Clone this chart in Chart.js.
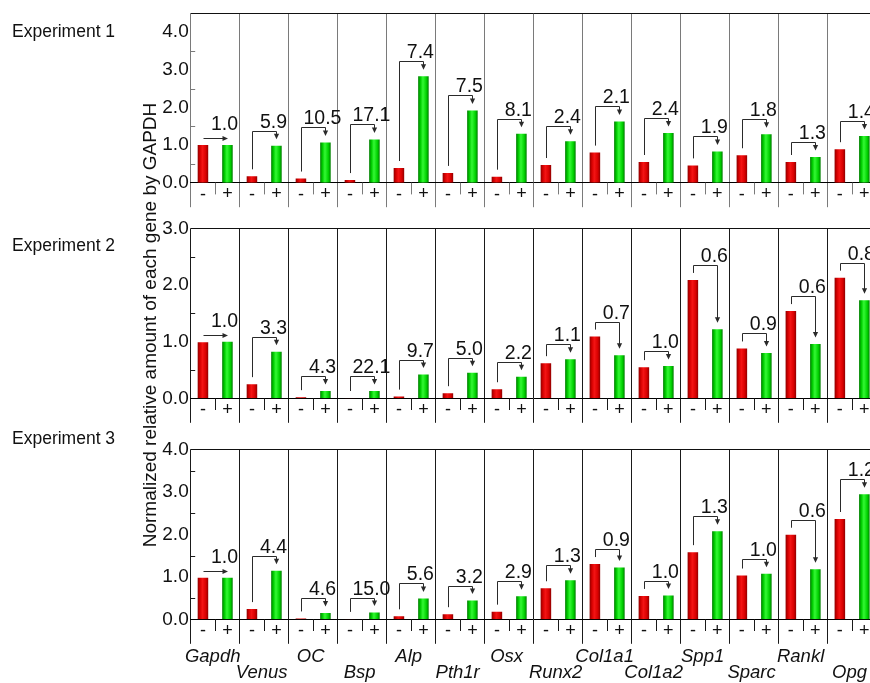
<!DOCTYPE html>
<html>
<head>
<meta charset="utf-8">
<script src="https://cdn.jsdelivr.net/npm/chart.js@4.4.1/dist/chart.umd.min.js"></script>
<style>
html,body{margin:0;padding:0;background:#fff;overflow:hidden;width:870px;height:683px;}
#wrap{position:relative;width:870px;height:683px;overflow:hidden;background:#fff;}
canvas{position:absolute;left:0;}
.exp{position:absolute;left:12px;font-family:"Liberation Sans",Arial,sans-serif;font-size:17.5px;color:#111;white-space:nowrap;line-height:20px;}
#ytitle{position:absolute;width:520px;height:22px;line-height:22px;text-align:center;font-family:"Liberation Sans",Arial,sans-serif;font-size:19px;color:#111;white-space:nowrap;transform:rotate(-90deg);transform-origin:50% 50%;}
</style>
</head>
<body>
<div id="wrap">
  <canvas id="c1" width="900" height="215" style="top:0px"></canvas>
  <canvas id="c2" width="900" height="220" style="top:215px"></canvas>
  <canvas id="c3" width="900" height="248" style="top:435px"></canvas>
  <div class="exp" id="e1">Experiment 1</div>
  <div class="exp" id="e2">Experiment 2</div>
  <div class="exp" id="e3">Experiment 3</div>
  <div id="ytitle">Normalized relative amount of each gene by GAPDH</div>
</div>
<script>
// ---------- data ----------
const genes = ['Gapdh','Venus','OC','Bsp','Alp','Pth1r','Osx','Runx2','Col1a1','Col1a2','Spp1','Sparc','Rankl','Opg'];
const signs = ['-','+'];
const expTitles = ['Experiment 1','Experiment 2','Experiment 3'];
const yTitle = 'Normalized relative amount of each gene by GAPDH';

const exp1Minus = [1.00,0.17,0.11,0.07,0.39,0.26,0.16,0.47,0.80,0.55,0.46,0.73,0.55,0.89];
const exp1Plus  = [1.00,0.98,1.07,1.15,2.83,1.92,1.30,1.10,1.63,1.32,0.83,1.29,0.68,1.24];
const exp1Fold  = ['1.0','5.9','10.5','17.1','7.4','7.5','8.1','2.4','2.1','2.4','1.9','1.8','1.3','1.4'];

const exp2Minus = [0.99,0.25,0.02,0.005,0.03,0.09,0.16,0.62,1.09,0.55,2.09,0.88,1.54,2.13];
const exp2Plus  = [1.00,0.82,0.13,0.13,0.42,0.45,0.38,0.69,0.76,0.57,1.22,0.80,0.96,1.73];
const exp2Fold  = ['1.0','3.3','4.3','22.1','9.7','5.0','2.2','1.1','0.7','1.0','0.6','0.9','0.6','0.8'];

const exp3Minus = [0.98,0.24,0.02,0.01,0.07,0.12,0.18,0.73,1.30,0.55,1.58,1.03,1.99,2.36];
const exp3Plus  = [0.98,1.14,0.15,0.16,0.49,0.44,0.54,0.92,1.22,0.56,2.07,1.07,1.18,2.94];
const exp3Fold  = ['1.0','4.4','4.6','15.0','5.6','3.2','2.9','1.3','0.9','1.0','1.3','1.0','0.6','1.2'];

const yMaxes = [4.5, 3.0, 4.0];
const yTicks1 = [0, 1, 2, 3, 4];
const yTicks2 = [0, 1, 2, 3];
const yTicks3 = [0, 1, 2, 3, 4];
const yStep = 1;
const refGene = 'Gapdh';

// ---------- layout / style ----------
const FONT = '"Liberation Sans", Arial, sans-serif';
const panels = [
  {id:'c1', h:215, padTop:12.3, zeroLocal:182.7, grid:'#7a7a7a', minus:exp1Minus, plus:exp1Plus, fold:exp1Fold, ymax:yMaxes[0], ticks:yTicks1, names:false},
  {id:'c2', h:220, padTop:13.3, zeroLocal:183.3, grid:'#1a1a1a', minus:exp2Minus, plus:exp2Plus, fold:exp2Fold, ymax:yMaxes[1], ticks:yTicks2, names:false},
  {id:'c3', h:248, padTop:14.3, zeroLocal:184.3, grid:'#1a1a1a', minus:exp3Minus, plus:exp3Plus, fold:exp3Fold, ymax:yMaxes[2], ticks:yTicks3, names:true}
];
const X_AXIS_H = 24;
const LEFT = 190.7;
const PAD_RIGHT = 23.4;
const BAR_PCT = 0.43;

document.getElementById('e1').textContent = expTitles[0];
document.getElementById('e2').textContent = expTitles[1];
document.getElementById('e3').textContent = expTitles[2];
document.getElementById('e1').style.top = (31-10)+'px';
document.getElementById('e2').style.top = (245-10)+'px';
document.getElementById('e3').style.top = (438-10)+'px';
const yt = document.getElementById('ytitle');
yt.textContent = yTitle;
yt.style.left = (150-260)+'px';
yt.style.top = (325-11)+'px';

function barFill(ctx, side){
  const stops = side
    ? ['#007c00','#00cc00','#34f834','#00d200','#007c00']
    : ['#8e0000','#d60000','#f41414','#d80000','#8e0000'];
  const chart = ctx.chart, sx = chart.scales && chart.scales.x;
  if (!sx || ctx.type !== 'data') return stops[2];
  const slot = (sx.getPixelForValue(1) - sx.getPixelForValue(0)) / 2;
  const cx = sx.getPixelForValue(ctx.dataIndex) + (side ? 0.5 : -0.5) * slot;
  const hw = slot * BAR_PCT / 2;
  if (!isFinite(cx) || !isFinite(hw) || hw <= 0) return stops[2];
  const g = chart.ctx.createLinearGradient(cx - hw, 0, cx + hw, 0);
  g.addColorStop(0, stops[0]);
  g.addColorStop(0.22, stops[1]);
  g.addColorStop(0.45, stops[2]);
  g.addColorStop(0.78, stops[3]);
  g.addColorStop(1, stops[4]);
  return g;
}

const annotPlugin = {
  id: 'annot',
  afterDatasetsDraw(chart, args, opts){
    const ctx = chart.ctx, ca = chart.chartArea;
    const sx = chart.scales.x, sy = chart.scales.y;
    const zero = sy.getPixelForValue(0);
    const m0 = chart.getDatasetMeta(0), m1 = chart.getDatasetMeta(1);
    ctx.save();
    // top frame line
    ctx.strokeStyle = '#111'; ctx.lineWidth = 1;
    ctx.beginPath();
    const ty = Math.round(ca.top) + 0.5;
    ctx.moveTo(ca.left, ty); ctx.lineTo(ca.right, ty); ctx.stroke();
    // minor y ticks (inward)
    ctx.strokeStyle = opts.grid;
    ctx.beginPath();
    for (let v = yStep/2; v < sy.max; v += yStep){
      const y = Math.round(sy.getPixelForValue(v)) + 0.5;
      ctx.moveTo(ca.left, y); ctx.lineTo(ca.left + 4.5, y);
    }
    ctx.stroke();
    // middle ticks between - and +
    ctx.beginPath();
    for (let i = 0; i < genes.length; i++){
      const x = Math.round(sx.getPixelForValue(i)) + 0.5;
      ctx.moveTo(x, zero); ctx.lineTo(x, zero + 11.7);
    }
    ctx.stroke();
    // - / + labels
    ctx.fillStyle = '#111';
    ctx.font = '18px ' + FONT;
    ctx.textAlign = 'center'; ctx.textBaseline = 'middle';
    for (let i = 0; i < genes.length; i++){
      ctx.fillText(signs[0], m0.data[i].x, zero + 12);
      ctx.fillText(signs[1], m1.data[i].x, zero + 11.5);
    }
    // brackets, arrows, fold labels
    ctx.lineWidth = 1;
    for (let i = 0; i < genes.length; i++){
      const r = m0.data[i], g = m1.data[i];
      const rx = Math.round(r.x) + 0.5, gx = Math.round(g.x) + 0.5;
      const top = Math.min(r.y, g.y);
      let labelY;
      ctx.strokeStyle = '#2a2a2a'; ctx.fillStyle = '#2a2a2a';
      if (genes[i] === refGene){
        const yb = Math.round(top - 7) + 0.5;
        ctx.beginPath(); ctx.moveTo(rx, yb); ctx.lineTo(gx - 4, yb); ctx.stroke();
        ctx.beginPath(); ctx.moveTo(gx + 0.5, yb); ctx.lineTo(gx - 5, yb - 2.6); ctx.lineTo(gx - 5, yb + 2.6); ctx.closePath(); ctx.fill();
        labelY = yb - 9;
      } else {
        const yb = Math.round(top - 15) + 0.5;
        const tip = g.y - 7;
        ctx.beginPath();
        ctx.moveTo(rx, r.y - 7); ctx.lineTo(rx, yb); ctx.lineTo(gx, yb); ctx.lineTo(gx, tip - 4);
        ctx.stroke();
        ctx.beginPath(); ctx.moveTo(gx, tip + 0.5); ctx.lineTo(gx - 2.6, tip - 5); ctx.lineTo(gx + 2.6, tip - 5); ctx.closePath(); ctx.fill();
        labelY = yb - 4;
      }
      ctx.fillStyle = '#111';
      ctx.font = '19.5px ' + FONT;
      ctx.textAlign = 'center'; ctx.textBaseline = 'alphabetic';
      ctx.fillText(opts.fold[i], g.x - 3, labelY);
    }
    // gene names
    if (opts.names){
      ctx.fillStyle = '#111';
      ctx.font = 'italic 18.5px ' + FONT;
      ctx.textAlign = 'center'; ctx.textBaseline = 'middle';
      for (let i = 0; i < genes.length; i++){
        const x = sx.getPixelForValue(i) - 2.5;
        ctx.fillText(genes[i], x, zero + (i % 2 === 0 ? 38 : 54));
      }
    }
    ctx.restore();
  }
};

panels.forEach(p => {
  const padBottom = p.h - p.zeroLocal - X_AXIS_H;
  new Chart(document.getElementById(p.id), {
    type: 'bar',
    data: {
      labels: genes,
      datasets: [
        {label: signs[0], data: p.minus, backgroundColor: c => barFill(c, 0), borderWidth: 0, barPercentage: BAR_PCT, categoryPercentage: 1},
        {label: signs[1], data: p.plus,  backgroundColor: c => barFill(c, 1), borderWidth: 0, barPercentage: BAR_PCT, categoryPercentage: 1}
      ]
    },
    options: {
      responsive: false,
      animation: false,
      devicePixelRatio: 1,
      events: [],
      layout: {padding: {left: 0, right: PAD_RIGHT, top: p.padTop, bottom: padBottom}},
      plugins: {
        legend: {display: false},
        tooltip: {enabled: false},
        annot: {grid: p.grid, fold: p.fold, names: p.names}
      },
      scales: {
        x: {
          offset: true,
          grid: {offset: true, color: p.grid, tickColor: p.grid, lineWidth: 1, tickWidth: 1, tickLength: 24.5, drawOnChartArea: true, drawTicks: true},
          border: {display: true, color: '#000', width: 1},
          ticks: {display: false},
          afterFit: s => { s.height = X_AXIS_H; }
        },
        y: {
          min: 0, max: p.ymax,
          grid: {display: false, drawTicks: false},
          border: {display: false},
          afterBuildTicks: s => { s.ticks = p.ticks.map(v => ({value: v})); },
          ticks: {
            autoSkip: false, padding: 2, color: '#111',
            font: {family: FONT, size: 19},
            callback: v => Number(v).toFixed(1)
          },
          afterFit: s => { s.width = LEFT; }
        }
      }
    },
    plugins: [annotPlugin]
  });
});
</script>
</body>
</html>
